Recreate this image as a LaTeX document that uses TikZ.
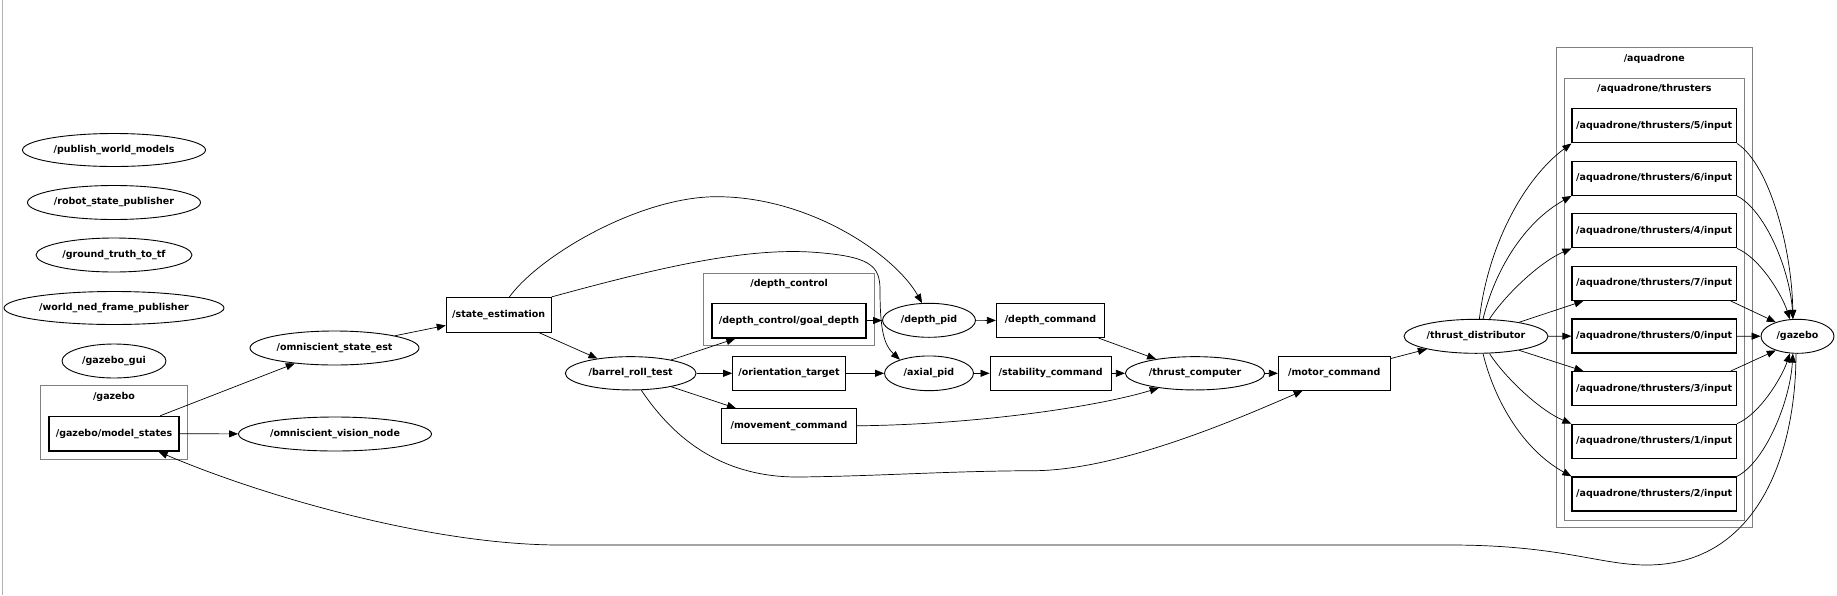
\documentclass[tikz,border=0pt]{standalone}
\usepackage{fontspec}
\setmainfont{DejaVu Sans}
\usetikzlibrary{shapes.geometric,arrows.meta}
\begin{document}
\begin{tikzpicture}[x=1pt,y=-1pt,
  every node/.style={font=\fontsize{9.5}{11}\selectfont\bfseries, inner sep=0pt, text=black},
  nodeell/.style={ellipse, draw=black, line width=0.9pt},
  topicbox/.style={rectangle, draw=black, line width=0.9pt},
  nstopic/.style={rectangle, draw=black, line width=1.3pt},
  clusterbox/.style={draw=black!50, line width=0.9pt},
  conn/.style={draw=black, line width=0.7pt, -{Triangle[length=9pt,width=7pt]}},
  thr/.style={nstopic, minimum width=164.3pt, minimum height=34pt},
]
\useasboundingbox (0,0) rectangle (1837,595);
\fill[white] (0,0) rectangle (1837,595);
\draw[black!30, line width=1.3pt] (2.5,0) -- (2.5,595);

% clusters
\draw[clusterbox] (40.7,385.7) rectangle (187.3,459);
\node (lgazebo) at (114,397.3) {/gazebo};
\draw[clusterbox] (703.7,273) rectangle (874.7,345.7);
\node (ldepth) at (789.2,284.3) {/depth\_control};
\draw[clusterbox] (1556.3,47.3) rectangle (1752.3,527.3);
\node (laqua) at (1654.3,58.7) {/aquadrone};
\draw[clusterbox] (1564,78) rectangle (1744.7,520);
\node (lthr) at (1654.3,89.3) {/aquadrone/thrusters};

% left column
\node[nodeell, minimum width=183pt, minimum height=33pt] (pwm) at (114,150) {/publish\_world\_models};
\node[nodeell, minimum width=173pt, minimum height=34pt] (rsp) at (114,202.5) {/robot\_state\_publisher};
\node[nodeell, minimum width=156pt, minimum height=34pt] (gtt) at (114,255) {/ground\_truth\_to\_tf};
\node[nodeell, minimum width=220pt, minimum height=33pt] (wned) at (114,308) {/world\_ned\_frame\_publisher};
\node[nodeell, minimum width=104pt, minimum height=34pt] (ggui) at (114,361) {/gazebo\_gui};
\node[nstopic, minimum width=130pt, minimum height=34.7pt] (ms) at (114,433.7) {/gazebo/model\_states};

\node[nodeell, minimum width=169pt, minimum height=34pt] (ose) at (334.5,348) {/omniscient\_state\_est};
\node[nodeell, minimum width=193pt, minimum height=34pt] (ovn) at (335,434) {/omniscient\_vision\_node};
\node[topicbox, minimum width=105pt, minimum height=34.7pt] (se) at (498.7,314.7) {/state\_estimation};

\node[nstopic, minimum width=154pt, minimum height=34.3pt] (gd) at (789,320.8) {/depth\_control/goal\_depth};
\node[nodeell, minimum width=130.7pt, minimum height=33.3pt] (brt) at (630.7,373.3) {/barrel\_roll\_test};
\node[topicbox, minimum width=112.7pt, minimum height=34pt] (ot) at (789,373.3) {/orientation\_target};
\node[topicbox, minimum width=135.3pt, minimum height=34.3pt] (mc) at (789,425.8) {/movement\_command};

\node[nodeell, minimum width=93pt, minimum height=34pt] (dpid) at (929,320.3) {/depth\_pid};
\node[nodeell, minimum width=89pt, minimum height=34.7pt] (apid) at (929,373.3) {/axial\_pid};
\node[topicbox, minimum width=108.3pt, minimum height=34.3pt] (dcmd) at (1050.5,320.5) {/depth\_command};
\node[topicbox, minimum width=121.3pt, minimum height=34pt] (scmd) at (1050.7,373.3) {/stability\_command};
\node[nodeell, minimum width=139.3pt, minimum height=33.3pt] (tc) at (1195,373.3) {/thrust\_computer};
\node[topicbox, minimum width=111.7pt, minimum height=34pt] (mcmd) at (1334.2,373.3) {/motor\_command};
\node[nodeell, minimum width=144pt, minimum height=34pt] (td) at (1476,336.3) {/thrust\_distributor};
\node[nodeell, minimum width=73pt, minimum height=34pt] (gz) at (1797.5,336.3) {/gazebo};

\node[thr] (t5) at (1654.2,125.8) {/aquadrone/thrusters/5/input};
\node[thr] (t6) at (1654.2,178.3) {/aquadrone/thrusters/6/input};
\node[thr] (t4) at (1654.2,230.8) {/aquadrone/thrusters/4/input};
\node[thr] (t7) at (1654.2,283.3) {/aquadrone/thrusters/7/input};
\node[thr] (t0) at (1654.2,336) {/aquadrone/thrusters/0/input};
\node[thr] (t3) at (1654.2,388.7) {/aquadrone/thrusters/3/input};
\node[thr] (t1) at (1654.2,441.3) {/aquadrone/thrusters/1/input};
\node[thr] (t2) at (1654.2,494) {/aquadrone/thrusters/2/input};

% edges
\draw[conn] (ms) -- (ose);
\draw[conn] (ms) -- (ovn);
\draw[conn] (ose) -- (se);
\draw[conn] (se) -- (brt);
\draw[conn] (se.59) .. controls (540,255) and (640,196.7) .. (716.7,196.7)
  .. controls (810,196.7) and (895,255) .. (dpid.112);
\draw[conn] (se.north east) .. controls (650,270) and (740,248) .. (810,252)
  .. controls (870,256) and (880,265) .. (880,290)
  .. controls (880,330) and (884,345) .. (apid.155);
\draw[conn] (brt) -- (gd);
\draw[conn] (brt) -- (ot);
\draw[conn] (brt) -- (mc);
\draw[conn] (brt.-58) .. controls (665,425) and (710,478) .. (800,477)
  .. controls (880,476) and (950,471) .. (1033,470.7)
  .. controls (1120,470.7) and (1243,416.6) .. (mcmd.-151);
\draw[conn] (gd) -- (dpid);
\draw[conn] (dpid) -- (dcmd);
\draw[conn] (ot) -- (apid);
\draw[conn] (apid) -- (scmd);
\draw[conn] (scmd) -- (tc);
\draw[conn] (dcmd) -- (tc);
\draw[conn] (mc.east) .. controls (980,424.5) and (1100,406) .. (tc.-158);
\draw[conn] (tc) -- (mcmd);
\draw[conn] (mcmd) -- (td);

\draw[conn] (td.79) .. controls (1488,245) and (1524,178.7) .. (t5.south west);
\draw[conn] (td.68) .. controls (1495,270) and (1524,222.5) .. (t6.south west);
\draw[conn] (td.52) .. controls (1505,295) and (1540,262) .. (t4.south west);
\draw[conn] (td.18) -- (t7.-166);
\draw[conn] (td) -- (t0);
\draw[conn] (td.-18) -- (t3.166);
\draw[conn] (td.-52) .. controls (1505,377.6) and (1540,410.6) .. (t1.north west);
\draw[conn] (td.-68) .. controls (1495,402.6) and (1524,450.1) .. (t2.north west);

\draw[conn] (t5.south east) .. controls (1770,165) and (1792,250) .. (gz.105);
\draw[conn] (t6.south east) .. controls (1765,210) and (1790,270) .. (gz.105);
\draw[conn] (t4.south east) .. controls (1760,258) and (1782,295) .. (gz.114);
\draw[conn] (t7.-13) -- (gz.147);
\draw[conn] (t0) -- (gz);
\draw[conn] (t3.13) -- (gz.-147);
\draw[conn] (t1.north east) .. controls (1760,414) and (1782,377) .. (gz.-114);
\draw[conn] (t2.north east) .. controls (1765,462) and (1790,402) .. (gz.-105);

\draw[conn] (gz.-95) .. controls (1796,450) and (1760,565) .. (1646.7,565)
  .. controls (1600,565) and (1560,545) .. (1450,545) -- (560,545)
  .. controls (430,545) and (260,495) .. (ms.-22.5);
\end{tikzpicture}
\end{document}
